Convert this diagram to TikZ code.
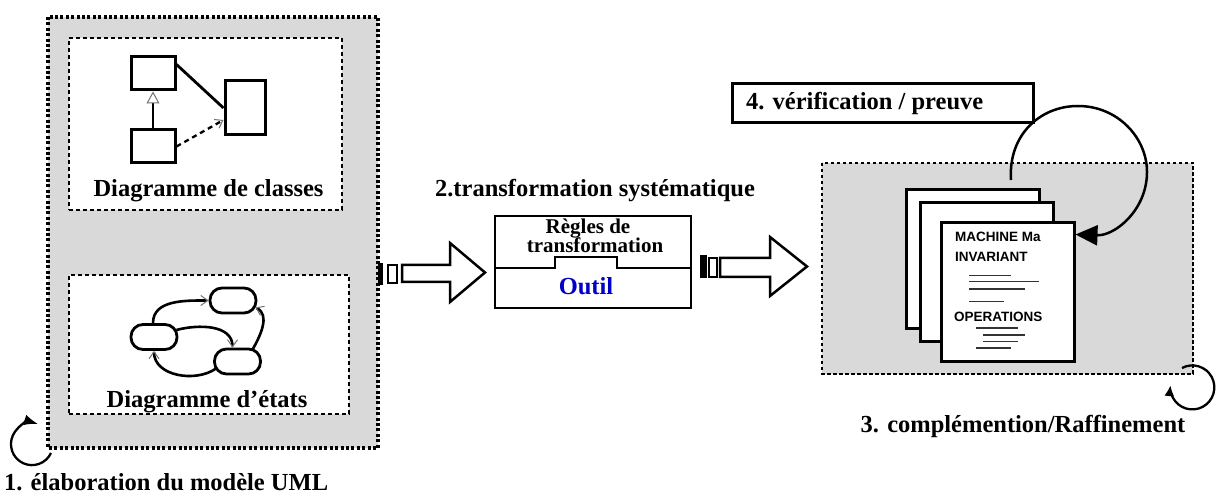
\documentclass[tikz,border=0pt]{standalone}
\usepackage{fontspec}
\setmainfont{Liberation Serif}
\newfontfamily\docsans{Liberation Sans}
\usetikzlibrary{arrows.meta}
\definecolor{panelgray}{RGB}{217,217,217}
\definecolor{toolblue}{RGB}{0,0,200}
\begin{document}
\begin{tikzpicture}[x=1pt,y=1pt,
  panel/.style={fill=panelgray, draw, line width=4pt, dash pattern=on 3pt off 2.4pt},
  subpanel/.style={fill=white, draw, line width=2.2pt, dash pattern=on 4pt off 3pt, inner sep=0pt},
  workpanel/.style={fill=panelgray, draw, line width=2.2pt, dash pattern=on 3.5pt off 2.5pt},
  cbox/.style={draw, line width=3pt, fill=white, inner sep=0pt},
  statebox/.style={draw, line width=2.8pt, rounded corners=12pt, fill=white,
    minimum width=46pt, minimum height=25pt, inner sep=0pt},
  trans/.style={line width=2.6pt, -{Straight Barb[length=7pt,width=10pt,line width=1pt,color=black!55]}},
  page/.style={draw, line width=3pt, fill=white, inner sep=0pt,
    minimum width=133pt, minimum height=139pt},
  big/.style={font=\fontsize{24.5}{26}\selectfont\bfseries},
  mid/.style={font=\fontsize{21}{22}\selectfont\bfseries, inner sep=0pt},
  code/.style={font=\docsans\fontsize{13.5}{14}\selectfont\bfseries, anchor=base west, inner sep=0pt},
  txt/.style={gray!40!black, line width=1.6pt},
  blockarrow/.style={draw, line width=2.5pt, fill=white, line join=miter},
  loop/.style={line width=2.3pt}
]
\useasboundingbox (0,0) rectangle (1218,-502);

% ---- 1. UML model ----
\draw[panel] (48,-17) rectangle (378,-448);
\node[subpanel, minimum width=273pt, minimum height=172pt] (cls) at (205.5,-124) {};
\node[subpanel, minimum width=280pt, minimum height=139pt] (sts) at (209,-344.5) {};

% class diagram
\node[cbox, minimum width=44pt, minimum height=33pt] (ca) at (153,-73.5) {};
\node[cbox, minimum width=44pt, minimum height=33pt] (cb) at (153,-146.5) {};
\node[cbox, minimum width=40pt, minimum height=54pt] (cc) at (245,-108) {};
\draw[line width=2.8pt] ([yshift=-9pt]ca.north east) -- (cc.west);
\draw[line width=2.3pt, -{Triangle[open, length=12pt, width=13pt, line width=1pt, color=black!55]}]
  (cb.north) -- (ca.south);
\draw[line width=2.3pt, dash pattern=on 5pt off 4pt,
  -{Straight Barb[length=7pt,width=10pt,line width=1pt,color=black!55]}]
  (cb.east) -- ([yshift=-12pt]cc.west);
\node[big, anchor=base] (clsl) at (208.5,-197) {Diagramme de classes};

% state diagram
\node[statebox] (s1) at (233,-300.5) {};
\node[statebox] (s2) at (154,-337) {};
\node[statebox] (s3) at (237.5,-361.5) {};
\draw[trans] ([xshift=-1pt]s2.north) to[out=90, in=180] (s1.west);
\draw[trans] ([shift={(-2pt,7pt)}]s2.east) to[out=15, in=90] ([xshift=-5pt]s3.north);
\draw[trans] ([shift={(3pt,-7pt)}]s3.west) to[out=215, in=-90] (s2.south);
\draw[trans] ([shift={(15pt,-2pt)}]s3.north) to[out=60, in=-25] ([shift={(-2pt,-7pt)}]s1.east);
\node[big, anchor=base] (stsl) at (207,-407) {Diagramme d’états};

% loop of step 1
\coordinate (l1) at (51,-453);
\draw[loop, -{Latex[length=14pt,width=11pt]}] (l1) arc[start angle=-25, end angle=-287, radius=21];
\node[big, anchor=base west, inner sep=0pt] (lab1) at (4,-490) {1. élaboration du modèle UML};

% ---- arrow into the tool ----
\fill (378,-263) rectangle (383,-285);
\draw[line width=1.8pt] (388,-265) rectangle (397,-283);
\draw[blockarrow] (402,-265) -- (450,-265) -- (450,-243) -- (485,-272.5)
  -- (450,-302) -- (450,-282) -- (402,-282) -- cycle;

% ---- 2. transformation tool ----
\node[big, anchor=base] (lab2) at (595,-196.5) {2.transformation systématique};
\node[draw, line width=2.5pt, minimum width=196pt, minimum height=92pt, inner sep=0pt] (tool) at (593,-262) {};
\draw[line width=2.5pt] (tool.west |- 0,-268) -- (555,-268) -- (555,-257) -- (617,-257) -- (617,-268) -- (tool.east |- 0,-268);
\node[mid, anchor=base] (rg1) at (588,-233.5) {Règles de};
\node[mid, anchor=base] (rg2) at (595,-252.5) {transformation};
\node[big, anchor=base, text=toolblue] (outil) at (586,-295) {Outil};

% ---- arrow out of the tool ----
\fill (700,-255) rectangle (707,-278);
\draw[line width=1.8pt] (709,-258) rectangle (717,-277);
\draw[blockarrow] (720,-258) -- (770,-258) -- (770,-237) -- (807,-266.5)
  -- (770,-296) -- (770,-277) -- (720,-277) -- cycle;

% ---- 3. B machines ----
\draw[workpanel] (822,-163) rectangle (1193,-374);
\node[page] (p1) at (972.5,-259) {};
\node[page] (p2) at (986.5,-272.5) {};
\node[page] (p3) at (1007.5,-292.5) {};
\node[code] (mach) at (955,-241.7) {MACHINE Ma};
\node[code] (inv) at (955,-262) {INVARIANT};
\node[code] (ops) at (954,-321.7) {OPERATIONS};
\draw[txt] (969,-275.7) -- (1011,-275.7);
\draw[txt] (969,-281.7) -- (1039,-281.7);
\draw[txt] (969,-289) -- (1025,-289);
\draw[txt] (969,-301.7) -- (1004,-301.7);
\draw[txt] (976,-328) -- (1018,-328);
\draw[txt] (983,-335) -- (1025,-335);
\draw[txt] (983,-341.7) -- (1018,-341.7);
\draw[txt] (976,-348) -- (1011,-348);

% loop of step 3
\coordinate (l3) at (1182,-368);
\draw[loop, -{Latex[length=11pt,width=10pt]}] (l3) arc[start angle=118, end angle=-186, radius=22];
\node[big, anchor=base] (lab3) at (1023,-432) {3. complémention/Raffinement};

% ---- 4. verification ----
\node[draw, line width=3pt, fill=white, minimum width=301pt, minimum height=39pt, inner sep=0pt] (ver) at (882.5,-103.5) {};
\node[big, anchor=base west, inner sep=0pt] (verl) at (746,-110) {4. vérification / preuve};
\draw[line width=2.5pt, -{Triangle[length=22pt,width=20pt]}]
  ([shift={(38.5pt,8pt)}]p1.north) .. controls (1008,-135) and (1040,-106) .. (1078,-106)
  .. controls (1118,-106) and (1147,-138) .. (1147,-172)
  .. controls (1147,-210) and (1115,-236) .. ([yshift=-13pt]p3.north east);
\end{tikzpicture}
\end{document}
